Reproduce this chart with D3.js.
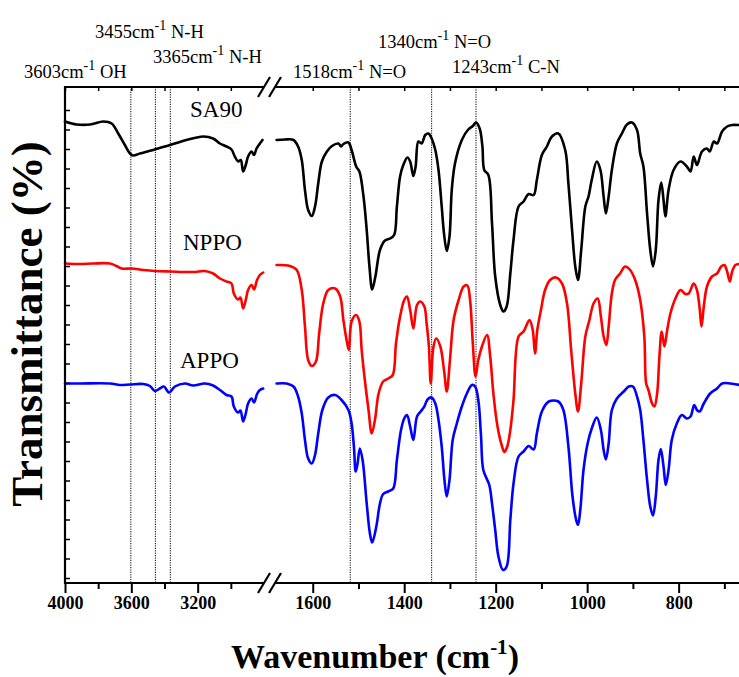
<!DOCTYPE html>
<html>
<head>
<meta charset="utf-8">
<script src="https://cdn.jsdelivr.net/npm/d3@7"></script>
<style>
  body { margin: 0; background: #fff; }
  svg { display: block; }
</style>
</head>
<body>
<svg id="chart" width="739" height="677"></svg>
<script>
// tick values (wavenumber, cm-1)
const leftMajor = [4000, 3600, 3200];
const leftMinor = [3800, 3400, 3000];
const rightMajor = [1600, 1400, 1200, 1000, 800];
const rightMinor = [1500, 1300, 1100, 900, 700];
const yTicks = [1, 4.9, 8.8, 12.7, 16.6, 20.5, 24.4, 28.3, 32.2, 36.1, 40, 43.9, 47.8, 51.7,
  55.6, 59.5, 63.4, 67.3, 71.2, 75.1, 79, 82.9, 86.8, 90.7, 94.6];

// marked bands
const bandsLeft = [3603, 3455, 3365];
const bandsRight = [1518, 1340, 1243];
const bandLabels = [
  { w: 3603, num: "3603cm", group: "OH" },
  { w: 3455, num: "3455cm", group: "N-H" },
  { w: 3365, num: "3365cm", group: "N-H" },
  { w: 1518, num: "1518cm", group: "N=O" },
  { w: 1340, num: "1340cm", group: "N=O" },
  { w: 1243, num: "1243cm", group: "C-N" }
];

// spectra: [wavenumber, transmittance (offset, a.u.)]
const sa90Left = [[4000,92.3],[3930,91.7],[3849,91.7],[3769,92.3],[3719,91.9],[3679,89.9],[3639,87.6],
  [3608,85.9],[3589,85.5],[3548,85.9],[3468,86.6],[3367,87.6],[3267,88.6],[3167,89.3],[3107,88.9],
  [3066,87.9],[3026,87.3],[2996,86.7],[2976,85.3],[2956,84.3],[2940,84.6],[2926,82.3],[2910,83.6],
  [2896,85.3],[2875,86.3],[2860,85.6],[2845,86.9],[2825,87.9],[2809,88.6]];
const nppoLeft = [[4000,63.9],[3910,63.8],[3830,63.9],[3729,63.9],[3689,63.4],[3658,62.9],[3598,62.9],
  [3528,62.6],[3458,62.4],[3367,62.3],[3227,62.2],[3157,62.4],[3107,61.9],[3066,60.9],[3026,60.3],
  [2996,59.9],[2982,57.9],[2956,56.7],[2942,57.1],[2926,54.9],[2910,56.6],[2896,58.6],[2875,59.6],
  [2860,58.7],[2842,60.6],[2825,61.6],[2805,62.1]];
const appoLeft = [[4000,39.9],[3910,39.9],[3729,39.9],[3669,39.6],[3608,39.7],[3528,39.8],[3488,39.4],
  [3458,38.4],[3428,38.9],[3404,39.3],[3372,38.1],[3337,39.3],[3277,39.9],[3227,39.5],[3157,39.9],
  [3107,39.5],[3066,38.6],[3026,37.6],[2996,37.3],[2982,35.3],[2956,34.1],[2942,34.5],[2926,32.3],
  [2910,33.9],[2896,35.9],[2875,36.9],[2860,36.1],[2842,37.8],[2825,38.6],[2805,38.9]];

const sa90Right = [[1679,88.6],[1661,88.7],[1642,88.6],[1632,87.3],[1624,84.6],[1617,78.6],[1610,74.6],
  [1602,73.4],[1595,75.3],[1588,79.9],[1580,84.3],[1569,86.3],[1558,87.4],[1544,87.9],[1538,87.3],
  [1533,87.8],[1522,88.1],[1515,86.6],[1505,83.3],[1498,82.3],[1489,77.3],[1482,70.6],[1476,63.3],
  [1470,58.7],[1463,61.3],[1453,66.6],[1442,68.5],[1431,68.9],[1422,69.6],[1416,75.3],[1409,81.3],
  [1402,83.6],[1393,85.1],[1387,84.3],[1380,81.4],[1375,83.3],[1369,88.3],[1362,87.9],[1354,89.6],
  [1347,89.9],[1340,88.9],[1332,86.6],[1325,82.6],[1318,75.3],[1313,69.9],[1307,66.4],[1301,69.3],
  [1296,78.6],[1289,83.9],[1274,88.6],[1260,90.7],[1250,91.4],[1243,92.1],[1235,90.9],[1229,87.3],
  [1225,82.6],[1216,81.6],[1208,71.9],[1201,61.3],[1190,55.6],[1183,54.3],[1176,55.3],[1168,61.9],
  [1161,68.6],[1150,75.3],[1139,76.3],[1128,77.8],[1117,77.6],[1110,80.6],[1099,85.6],[1088,87.3],
  [1077,89.3],[1063,89.9],[1048,86.6],[1041,79.9],[1033,70.6],[1026,63.3],[1020,60.6],[1013,66.6],
  [1004,75.3],[997,77.3],[990,80.6],[979,84.3],[971,82.6],[964,77.3],[959,73.9],[953,77.3],[946,82.6],
  [935,87.9],[924,89.9],[913,91.7],[902,92.1],[891,90.6],[884,85.9],[877,83.3],[869,73.9],[862,66.6],
  [856,63.3],[850,66.6],[844,76.6],[838,80.1],[833,76.6],[829,73.3],[822,78.6],[811,82.6],[796,84.3],
  [782,83.3],[774,82.3],[767,85.3],[760,83.6],[749,86.3],[738,86.9],[732,86.3],[723,88.3],[716,87.9],
  [705,90.3],[694,91.3],[683,91.6],[669,91.6]];
const nppoRight = [[1679,63.6],[1650,63.4],[1635,62.6],[1624,58.6],[1617,51.3],[1610,44.6],[1602,43.4],
  [1593,44.3],[1586,49.9],[1577,55.9],[1566,58.6],[1551,58.9],[1540,57.3],[1533,52.6],[1526,48.6],
  [1521,46.6],[1515,52.3],[1505,53.6],[1498,52.3],[1493,46.6],[1487,41.3],[1478,34.6],[1471,29.9],
  [1464,32.6],[1456,37.9],[1446,40.3],[1435,40.9],[1425,41.6],[1418,47.9],[1409,53.3],[1400,56.6],
  [1394,57.3],[1387,54.6],[1380,50.9],[1372,55.6],[1365,56.3],[1356,55.3],[1351,51.9],[1346,47.3],
  [1342,39.9],[1336,47.3],[1330,48.9],[1321,47.3],[1313,42.6],[1307,38.3],[1300,44.6],[1292,52.6],
  [1281,56.6],[1270,59.3],[1262,59.5],[1256,56.6],[1250,47.9],[1244,41.3],[1238,44.6],[1230,47.3],
  [1219,49.6],[1212,45.3],[1205,37.9],[1196,31.3],[1186,27.3],[1181,26.2],[1175,27.2],[1168,30.6],
  [1161,36.6],[1150,49.3],[1139,50.3],[1126,52.6],[1119,50.6],[1114,45.9],[1109,50.6],[1101,54.6],
  [1092,58.6],[1081,60.6],[1068,61.1],[1055,59.9],[1044,55.9],[1035,46.6],[1026,37.9],[1020,34.3],
  [1013,39.9],[1004,49.3],[995,52.6],[986,55.9],[977,56.9],[970,53.3],[964,49.3],[958,47.6],[953,51.3],
  [946,57.9],[939,60.6],[928,61.9],[917,63.3],[906,62.6],[895,60.6],[884,56.6],[875,49.3],[871,39.9],
  [866,38.6],[858,35.9],[853,35.3],[847,37.9],[842,45.3],[837,50.3],[831,47.3],[825,50.6],[818,53.9],
  [807,56.9],[796,58.6],[785,57.8],[778,57.9],[767,59.9],[760,58.6],[754,54.9],[750,51.3],[745,55.3],
  [738,59.3],[727,61.3],[716,61.9],[707,63.3],[700,63.6],[694,62.3],[688,60.3],[683,62.3],[676,63.6],
  [667,63.8]];
const appoRight = [[1679,39.9],[1657,39.9],[1642,39.3],[1632,37.3],[1624,33.9],[1617,28.6],[1610,24.9],
  [1602,23.9],[1595,25.6],[1588,29.9],[1579,34.6],[1566,37.1],[1551,37.6],[1537,36.6],[1522,34.6],
  [1515,31.9],[1510,27.3],[1506,22.3],[1502,23.9],[1497,26.9],[1491,24.6],[1482,15.9],[1475,9.9],
  [1470,8.1],[1461,11.3],[1453,15.9],[1446,17.8],[1435,18.3],[1424,18.9],[1416,24.6],[1407,30.6],
  [1400,32.9],[1394,33.6],[1387,31.3],[1380,28.6],[1372,33.3],[1364,34.3],[1356,35.3],[1349,36.7],
  [1340,37.1],[1332,35.9],[1325,32.6],[1318,27.3],[1312,20.6],[1307,17.3],[1301,20.6],[1294,28.6],
  [1285,31.9],[1274,35.3],[1263,37.9],[1252,39.6],[1245,39.3],[1238,36.6],[1232,29.3],[1227,22.6],
  [1214,19.6],[1208,15.9],[1201,10.6],[1194,5.3],[1184,2.6],[1176,3.3],[1168,12.6],[1161,19.9],
  [1150,25.3],[1139,26.3],[1128,27.4],[1117,26.7],[1110,29.9],[1099,34.3],[1084,36.3],[1063,36.3],
  [1052,34.6],[1041,27.3],[1032,17.3],[1024,12.6],[1020,11.6],[1015,14.6],[1008,22.6],[999,27.9],
  [990,30.9],[979,33.1],[970,30.6],[964,26.6],[959,24.7],[953,27.9],[946,34.6],[935,36.9],[920,38.3],
  [909,39.3],[900,39.3],[891,37.3],[884,34.6],[877,28.6],[869,20.6],[862,15.3],[856,13.5],[850,17.3],
  [844,24.6],[839,26.8],[833,23.3],[828,19.6],[822,22.6],[815,28.6],[804,31.9],[793,33.6],[782,32.9],
  [774,33.3],[766,35.6],[760,34.6],[754,34.3],[745,35.9],[731,37.9],[716,38.9],[705,39.9],[687,39.9],
  [667,39.6]];

const series = [
  { name: "SA90", color: "#000000", left: sa90Left, right: sa90Right },
  { name: "NPPO", color: "#ff0000", left: nppoLeft, right: nppoRight },
  { name: "APPO", color: "#0000ff", left: appoLeft, right: appoRight }
];

// layout
const width = 739, height = 677;
const margin = { top: 87, left: 65, bottom: 94 };
const plotBottom = height - margin.bottom;
const gapEnd = 275;
const serif = "'Liberation Serif', 'Times New Roman', serif";

const svg = d3.select("#chart");

const xL = d3.scaleLinear().domain([4000, 2800]).range([margin.left, 264]);
const xR = d3.scaleLinear().domain([1700, 668]).range([267, width]);
const y = d3.scaleLinear().domain([0, 99.2]).range([plotBottom, margin.top]);

// dotted band markers
const bandG = svg.append("g")
  .attr("stroke", "#000")
  .attr("stroke-width", 1)
  .attr("stroke-dasharray", "1.2,1.2");
bandsLeft.forEach(w => bandG.append("line")
  .attr("x1", xL(w)).attr("x2", xL(w)).attr("y1", margin.top).attr("y2", plotBottom));
bandsRight.forEach(w => bandG.append("line")
  .attr("x1", xR(w)).attr("x2", xR(w)).attr("y1", margin.top).attr("y2", plotBottom));

// spectra
const lineL = d3.line().x(d => xL(d[0])).y(d => y(d[1])).curve(d3.curveCatmullRom.alpha(0.5));
const lineR = d3.line().x(d => xR(d[0])).y(d => y(d[1])).curve(d3.curveCatmullRom.alpha(0.5));

series.forEach(s => {
  [[s.left, lineL], [s.right, lineR]].forEach(([data, gen]) => {
    svg.append("path")
      .datum(data)
      .attr("fill", "none")
      .attr("stroke", s.color)
      .attr("stroke-width", 2.6)
      .attr("stroke-linejoin", "round")
      .attr("stroke-linecap", "round")
      .attr("d", gen);
  });
});

// axes
const styleAxis = (g, w) => {
  g.select(".domain").remove();
  g.selectAll(".tick line").attr("stroke", "#000").attr("stroke-width", w);
  g.selectAll(".tick text")
    .attr("font-family", serif)
    .attr("font-weight", "bold")
    .attr("font-size", 18)
    .attr("fill", "#000");
};

[[xL, leftMajor, leftMinor], [xR, rightMajor, rightMinor]].forEach(([sc, major, minor]) => {
  svg.append("g")
    .attr("transform", `translate(0,${plotBottom})`)
    .call(d3.axisBottom(sc).tickValues(major).tickSize(10).tickPadding(3).tickFormat(d3.format("d")))
    .call(g => styleAxis(g, 2));
  svg.append("g")
    .attr("transform", `translate(0,${plotBottom})`)
    .call(d3.axisBottom(sc).tickValues(minor).tickSize(6).tickFormat(""))
    .call(g => styleAxis(g, 2));
  svg.append("g")
    .attr("transform", `translate(0,${margin.top})`)
    .call(d3.axisBottom(sc).tickValues(major.concat(minor)).tickSize(4).tickFormat(""))
    .call(g => styleAxis(g, 1.5));
});

svg.append("g")
  .attr("transform", `translate(${margin.left},0)`)
  .call(d3.axisRight(y).tickValues(yTicks).tickSize(5).tickFormat(""))
  .call(g => styleAxis(g, 1.5));

// axis lines with break
const axisG = svg.append("g").attr("stroke", "#000").attr("stroke-width", 2.2);
[margin.top, plotBottom].forEach(yy => {
  axisG.append("line").attr("x1", margin.left - 1).attr("x2", xL.range()[1]).attr("y1", yy).attr("y2", yy);
  axisG.append("line").attr("x1", gapEnd).attr("x2", width).attr("y1", yy).attr("y2", yy);
  [xL.range()[1], gapEnd].forEach(cx => {
    axisG.append("line")
      .attr("x1", cx - 6).attr("y1", yy + 10)
      .attr("x2", cx + 6).attr("y2", yy - 10);
  });
});
axisG.append("line")
  .attr("x1", margin.left).attr("x2", margin.left)
  .attr("y1", margin.top - 1).attr("y2", plotBottom + 1);

// band annotation labels
const labelPos = [[24, 78], [95, 38], [153, 63], [293, 78], [378, 48], [452, 73]];
bandLabels.forEach((b, i) => {
  const t = svg.append("text")
    .attr("x", labelPos[i][0]).attr("y", labelPos[i][1])
    .attr("font-family", serif).attr("font-size", 18.5).attr("fill", "#000");
  t.append("tspan").text(b.num);
  t.append("tspan").attr("font-size", 14).attr("dy", -8).text("-1");
  t.append("tspan").attr("dy", 8).text("\u00a0" + b.group);
});

// series names
const namePos = [[190, 117], [183, 250], [180, 368]];
series.forEach((s, i) => {
  svg.append("text")
    .attr("x", namePos[i][0]).attr("y", namePos[i][1])
    .attr("font-family", serif).attr("font-size", 23).attr("fill", "#000")
    .text(s.name);
});

// axis titles
const xt = svg.append("text")
  .attr("x", 375).attr("y", 668)
  .attr("text-anchor", "middle")
  .attr("font-family", serif).attr("font-weight", "bold").attr("font-size", 34);
xt.append("tspan").text("Wavenumber (cm");
xt.append("tspan").attr("font-size", 21).attr("dy", -14).text("-1");
xt.append("tspan").attr("dy", 14).text(")");

svg.append("text")
  .attr("transform", `translate(42,324) rotate(-90)`)
  .attr("text-anchor", "middle")
  .attr("font-family", serif).attr("font-weight", "bold").attr("font-size", 45)
  .text("Transmittance (%)");
</script>
</body>
</html>
